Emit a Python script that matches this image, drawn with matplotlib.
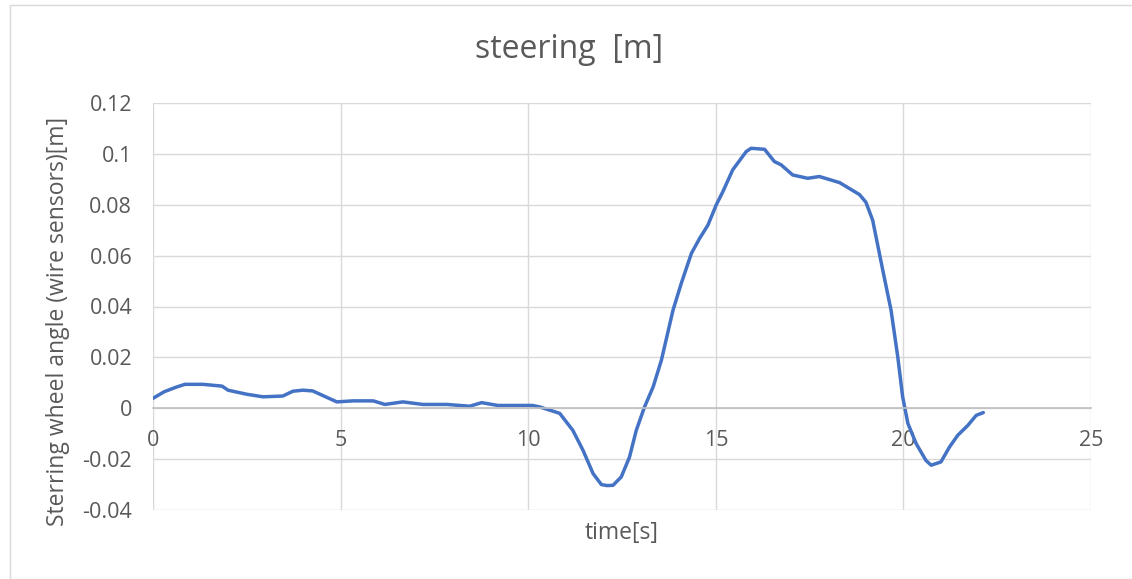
import matplotlib
matplotlib.use("Agg")
import matplotlib.pyplot as plt
from matplotlib.patches import Rectangle

time_s = [0.0, 0.3, 0.6, 0.85, 1.33, 1.84, 2.0, 2.5, 2.93, 3.46, 3.73, 4.0, 4.26, 4.6,
          4.9, 5.33, 5.87, 6.18, 6.66, 7.19, 7.83, 8.44, 8.76, 9.19, 10.12, 10.31,
          10.84, 11.19, 11.46, 11.73, 11.95, 12.1, 12.26, 12.48, 12.7, 12.88, 13.1,
          13.33, 13.55, 13.86, 14.08, 14.35, 14.57, 14.79, 15.01, 15.19, 15.45, 15.81,
          15.94, 16.3, 16.56, 16.74, 17.05, 17.45, 17.76, 18.3, 18.83, 19.0, 19.18,
          19.45, 19.67, 19.85, 19.98, 20.12, 20.34, 20.6, 20.74, 21.0, 21.23, 21.45,
          21.72, 21.94, 22.13]
steering_m = [0.0039, 0.0065, 0.0082, 0.0094, 0.0094, 0.0087, 0.0071, 0.0055, 0.0045,
              0.0048, 0.0067, 0.0071, 0.0068, 0.0045, 0.0025, 0.0029, 0.0029, 0.0015,
              0.0025, 0.0015, 0.0015, 0.0008, 0.0022, 0.0011, 0.0011, 0.0005, -0.0020,
              -0.0087, -0.0165, -0.0257, -0.0300, -0.0304, -0.0303, -0.0270, -0.0192,
              -0.0087, 0.0005, 0.0084, 0.0189, 0.0386, 0.0491, 0.0609, 0.0668, 0.0720,
              0.0799, 0.0852, 0.0937, 0.1009, 0.1022, 0.1018, 0.0970, 0.0957, 0.0917,
              0.0904, 0.0911, 0.0887, 0.0840, 0.0810, 0.0740, 0.0543, 0.0386, 0.0202,
              0.0045, -0.0060, -0.0139, -0.0205, -0.0224, -0.0211, -0.0152, -0.0106,
              -0.0067, -0.0028, -0.0017]

x_ticks = [0, 5, 10, 15, 20, 25]
y_ticks = [-0.04, -0.02, 0, 0.02, 0.04, 0.06, 0.08, 0.1, 0.12]
y_tick_labels = ["-0.04", "-0.02", "0", "0.02", "0.04", "0.06", "0.08", "0.1", "0.12"]

plt.rcParams['font.family'] = ['Open Sans', 'DejaVu Sans']
txt = '#595959'

fig = plt.figure(figsize=(11.32, 5.79), dpi=100)
fig.patches.append(Rectangle((10/1132, 0.0), 1.2, 1 - 5/579, transform=fig.transFigure,
                             fill=False, edgecolor='#D9D9D9', linewidth=1))
ax = fig.add_axes([153/1132, 1 - 510/579, (1091 - 153)/1132, (510 - 103)/579])

ax.plot(time_s, steering_m, color='#4472C4', linewidth=2.5, solid_capstyle='round',
        solid_joinstyle='round')

ax.set_xlim(0, 25)
ax.set_ylim(-0.04, 0.12)
ax.set_xticks(x_ticks)
ax.set_yticks(y_ticks)
ax.set_yticklabels(y_tick_labels)
ax.grid(True, color='#D9D9D9', linewidth=1)
ax.set_axisbelow(True)
for s in ['top', 'right', 'left']:
    ax.spines[s].set_visible(False)
ax.spines['bottom'].set_position(('data', 0))
ax.spines['bottom'].set_color('#BFBFBF')
ax.spines['bottom'].set_linewidth(1.2)
ax.tick_params(axis='x', length=0, pad=16, labelsize=15.5, labelcolor=txt)
ax.tick_params(axis='y', length=0, pad=15, labelsize=15.5, labelcolor=txt)

fig.text(569/1132, 1 - 50/579, 'steering  [m]', ha='center', va='center',
         fontsize=23, color=txt)
fig.text(622/1132, 1 - 533/579, 'time[s]', ha='center', va='center',
         fontsize=16.5, color=txt)
fig.text(58/1132, 1 - 321/579, 'Sterring wheel angle (wire sensors)[m]', ha='center',
         va='center', rotation=90, fontsize=16.5, color=txt)

fig.savefig('out.png', dpi=100)
